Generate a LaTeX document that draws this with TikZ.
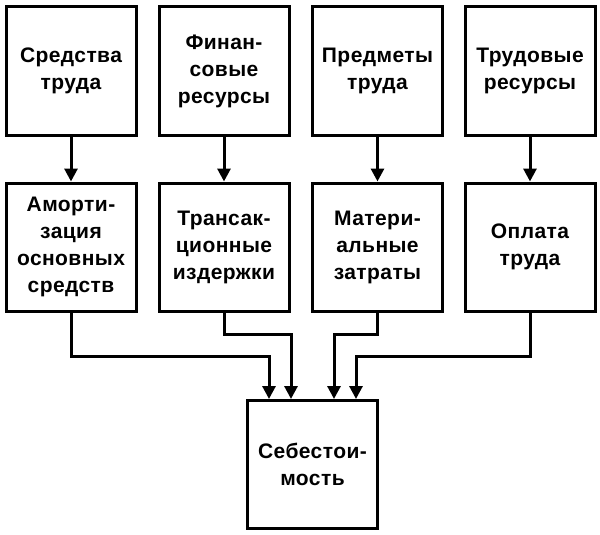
\documentclass[tikz,border=0pt]{standalone}
\usepackage{fontspec}
\setmainfont{Liberation Sans}[LetterSpace=2]
\usetikzlibrary{arrows.meta}
\tikzset{
  block/.style={draw,line width=3pt,minimum width=130pt,minimum height=129pt,align=center,inner sep=0pt,font=\bfseries\fontsize{21}{27}\selectfont},
  link/.style={line width=3pt,arrows={-Triangle[width=13pt,length=13pt]}},
}
\begin{document}
\begin{tikzpicture}[x=1pt,y=-1pt]
\useasboundingbox[fill=white] (0,0) rectangle (600,535);
\node[block] (sredstva) at (71,71) {Средства\\труда};
\node[block] (finansy) at (224,71) {Финан-\\совые\\ресурсы};
\node[block] (predmety) at (377.5,71) {Предметы\\труда};
\node[block] (trud) at (530,71) {Трудовые\\ресурсы};

\node[block,minimum height=128pt] (amort) at (71,247) {Аморти-\\зация\\основных\\средств};
\node[block,minimum height=128pt] (trans) at (224,247) {Трансак-\\ционные\\издержки};
\node[block,minimum height=128pt] (mater) at (377.5,247) {Матери-\\альные\\затраты};
\node[block,minimum height=128pt] (oplata) at (530,247) {Оплата\\труда};

\node[block,minimum height=128pt] (sebest) at (312.5,464.5) {Себестои-\\мость};

\draw[link] (sredstva) -- (amort);
\draw[link] (finansy) -- (trans);
\draw[link] (predmety) -- (mater);
\draw[link] (trud) -- (oplata);

\draw[link] (amort.south) -- ++(0,44) -| ([xshift=-43.5pt]sebest.north);
\draw[link] (trans.south) -- ++(0,22) -| ([xshift=-21.5pt]sebest.north);
\draw[link] (mater.south) -- ++(0,22) -| ([xshift=21.5pt]sebest.north);
\draw[link] (oplata.south) -- ++(0,44) -| ([xshift=43.5pt]sebest.north);
\end{tikzpicture}
\end{document}
